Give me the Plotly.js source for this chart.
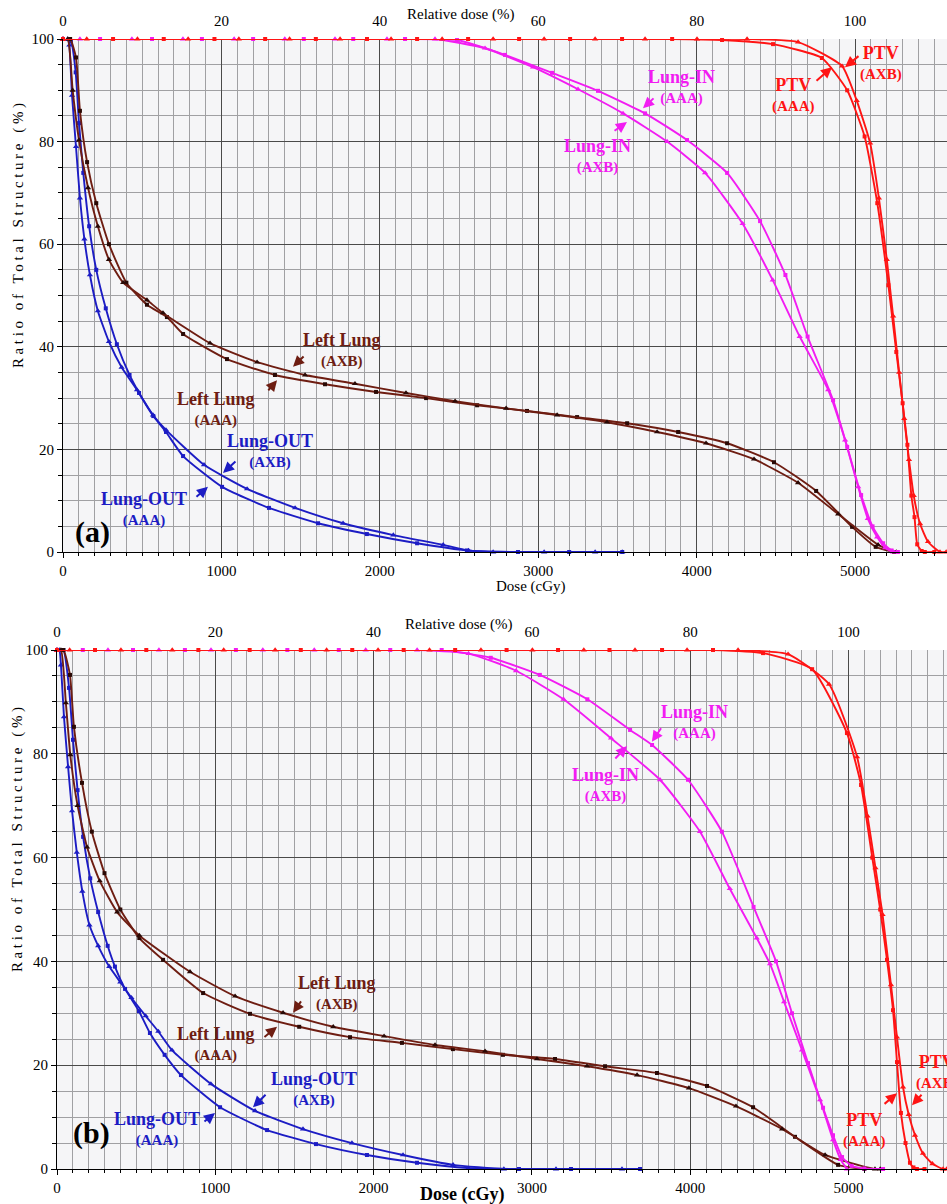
<!DOCTYPE html>
<html><head><meta charset="utf-8">
<script src="https://cdn.plot.ly/plotly-3.0.1.min.js"></script>
<style>html,body{margin:0;padding:0;background:#fff}#chart{width:947px;height:1204px}</style>
</head><body><div id="chart"></div>
<script>
// ---------------- Panel (a) data: dose (cGy) vs ratio of total structure (%) ----------------
const aPtvAaaDose = [0,316,636,956,1276,1596,1919,2235,2557,2879,3201,3529,3845,4160,4482,4790,4950,5060,5140,5210,5260,5300,5330,5355,5375,5392,5420,5440,5500];
const aPtvAaaVol  = [100,100,100,100,100,100,100,100,100,100,100,100,100,99.8,99.0,96.3,90,81,68,52,39,29,20.9,11,6.8,1.5,0.2,0,0];
const aPtvAxbDose = [0,150,470,790,1110,1430,1749,2071,2393,2715,3037,3359,3674,4002,4318,4640,4918,5010,5095,5150,5200,5240,5278,5310,5340,5370,5410,5460,5536,5575];
const aPtvAxbVol  = [100,100,100,100,100,100,100,100,100,100,100,100,100,100,100,99.4,94.7,88,79.7,69,57,46,35,26,18,11,5.5,2,0,0];
const aLungInAaaDose = [0,234,562,877,1200,1520,1832,2159,2487,2790,3087,3377,3674,3939,4192,4400,4560,4700,4861,4950,5038,5110,5177,5230,5270];
const aLungInAaaVol  = [100,100,100,100,100,100,100,100,99.8,96.9,93.4,89.9,85.5,80.3,73.9,64.5,54,42,29.6,20.5,11.1,5,1.7,0.3,0];
const aLungInAxbDose = [0,107,435,757,1080,1400,1717,2045,2348,2664,2967,3251,3535,3813,4053,4290,4480,4650,4830,4937,5019,5080,5139,5190,5240];
const aLungInAxbVol  = [100,100,100,100,100,100,100,100,100,98.2,94.5,90.2,85.5,80,73.9,64,53,42,31.6,21.8,12.7,6.5,2.9,0.8,0];
const aLeftAaaDose = [0,45,82,107,152,210,290,400,530,656,758,1035,1338,1654,1976,2292,2614,2929,3245,3561,3883,4192,4488,4754,4981,5130,5246];
const aLeftAaaVol  = [100,100,96.4,86,76,68,60,52.5,48.2,45.8,42.5,37.6,34.5,32.7,31.2,30,28.6,27.5,26.3,25.1,23.4,21.2,17.5,11.9,4.9,1,0];
const aLeftAxbDose = [0,30,61,101,158,220,290,380,530,631,928,1225,1528,1843,2165,2475,2797,3119,3434,3750,4059,4362,4640,4893,5145,5260];
const aLeftAxbVol  = [100,100,90,80.3,71,63.5,57,52.5,49.1,46.6,40.7,37,34.5,32.8,31,29.4,28,26.7,25.3,23.4,21.2,18.1,13.5,7.4,1.4,0];
const aOutAaaDose = [0,50,80,101,128,165,210,270,340,420,480,570,650,758,1004,1300,1610,1918,2235,2550,2872,3195,3530];
const aOutAaaVol  = [100,99.5,93.5,83.6,73.9,63.5,55,47.5,40.5,34.5,31,26.5,23.4,18.7,12.7,8.6,5.6,3.5,1.7,0.3,0,0,0];
const aOutAxbDose = [0,30,40,57,82,107,135,170,220,290,370,467,568,650,890,1162,1465,1768,2085,2400,2560,2715,3037,3359,3530];
const aOutAxbVol  = [100,100,98.8,89,79,69,61,54,47,41,36,31.6,26.7,23.8,17,12.3,8.6,5.6,3.3,1.4,0.3,0,0,0,0];

// ---------------- Panel (b) data ----------------
const bPtvAaaDose = [0,240,564,893,1217,1540,1865,2190,2515,2840,3165,3490,3822,4144,4460,4770,4990,5079,5150,5200,5243,5281,5306,5331,5360,5388,5410,5432,5480];
const bPtvAaaVol  = [100,100,100,100,100,100,100,100,100,100,100,100,100,100,99.4,96.3,84,74,60,50,40.3,30.6,20.6,10.8,5,1.2,0.3,0,0];
const bPtvAxbDose = [0,80,404,728,1053,1378,1703,2028,2353,2678,3003,3328,3651,3980,4302,4618,4877,5054,5120,5170,5215,5268,5306,5344,5380,5420,5470,5530,5597,5620];
const bPtvAxbVol  = [100,100,100,100,100,100,100,100,100,100,100,100,100,100,100,99.2,93.4,79.4,68,58,49,35.5,25.4,15.8,10.5,6.5,3,1,0,0];
const bLungInAaaDose = [0,163,480,808,1130,1455,1780,2105,2430,2740,3050,3350,3620,3759,3986,4200,4400,4542,4643,4744,4839,4902,4959,5020,5100,5218];
const bLungInAaaVol  = [100,100,100,100,100,100,100,100,100,98.5,95.2,90.5,84.6,81.7,75,65,50.5,40,30,20.4,11.8,6.5,2.3,0.6,0.1,0];
const bLungInAxbDose = [0,322,644,973,1300,1625,1950,2275,2600,2900,3200,3500,3809,4062,4250,4420,4504,4593,4706,4820,4902,4950,4990];
const bLungInAxbVol  = [100,100,100,100,100,100,100,100,99.3,96,90.5,83,75,65,54,44.5,39.5,32.2,22.9,13.3,5.6,1.8,0];
const bLeftAaaDose = [0,40,82,107,158,220,300,400,520,670,923,1219,1530,1851,2179,2501,2817,3146,3462,3790,4106,4397,4662,4934,5100];
const bLeftAaaVol  = [100,100,95.2,85.2,74.4,65,57,50,44.5,40.3,33.9,29.9,27.4,25.4,24.3,23.1,22,21.2,19.8,18.5,16,11.9,6.2,0.8,0];
const bLeftAxbDose = [0,25,56,84,130,190,270,380,520,840,1125,1428,1745,2066,2388,2704,3032,3348,3664,3992,4289,4580,4852,5167,5200];
const bLeftAxbVol  = [100,100,89.8,79.8,70,62,55.5,49.5,45,38,33.3,30.1,27.4,25.6,23.9,22.7,21.2,19.8,18.1,15.6,12.1,7.7,2.7,0,0];
const bOutAaaDose = [0,40,76,101,130,165,210,260,320,366,430,518,587,680,783,1030,1327,1636,1958,2274,2596,2918,3247,3683];
const bOutAaaVol  = [100,100,92.7,82.7,73,64,56,49.5,43,39,34.7,30.4,26.2,22,18.1,11.9,7.5,4.8,2.7,1.2,0.2,0,0,0];
const bOutAxbDose = [0,15,25,44,70,95,125,160,205,260,330,400,470,560,640,726,972,1251,1554,1863,2186,2502,2823,3152,3569];
const bOutAxbVol  = [100,100,97.1,87.1,77.5,69,61,53.5,47,43,39,36,33,29.5,26.5,22.9,16.4,11.2,7.7,5,2.7,0.8,0,0,0];

// axis settings
const doseTicks = [0,1000,2000,3000,4000,5000];
const relTicks = [0,20,40,60,80,100];
const volTicks = [0,20,40,60,80,100];
const PRESCRIPTION = 5000; // cGy = 100 % relative dose

const FONT = '"Liberation Serif", "Times New Roman", serif';
const COL = {ptv:'#ff1414', lungIn:'#f21cf2', left:'#6e1d12', leftMk:'#2a0905', out:'#1c1cc4'};
const W = 947, H = 1204;

function tr(x, y, color, sym, xa, ya, mcolor) {
  return {type:'scatter', mode:'lines+markers', x:x, y:y, xaxis:xa, yaxis:ya, cliponaxis:false,
    line:{color:color, width:1.9, shape:'spline', smoothing:0.5},
    marker:{symbol:sym, size: sym === 'triangle-up' ? 5.5 : 4, color: mcolor || color},
    hoverinfo:'skip', showlegend:false};
}
// carrier traces for the relative-dose (top) axes: no visible marks
function carrier(xa, ya) {
  return {type:'scatter', mode:'markers', x:relTicks, y:relTicks.map(function(){return null;}),
    xaxis:xa, yaxis:ya, marker:{opacity:0}, hoverinfo:'skip', showlegend:false};
}
const T = 'triangle-up', S = 'square';
const data = [
  carrier('x2', 'y'),
  carrier('x4', 'y2'),
  tr(aOutAaaDose, aOutAaaVol, COL.out, S, 'x', 'y'),
  tr(aOutAxbDose, aOutAxbVol, COL.out, T, 'x', 'y'),
  tr(aLeftAaaDose, aLeftAaaVol, COL.left, S, 'x', 'y', COL.leftMk),
  tr(aLeftAxbDose, aLeftAxbVol, COL.left, T, 'x', 'y', COL.leftMk),
  tr(aLungInAaaDose, aLungInAaaVol, COL.lungIn, S, 'x', 'y'),
  tr(aLungInAxbDose, aLungInAxbVol, COL.lungIn, T, 'x', 'y'),
  tr(aPtvAaaDose, aPtvAaaVol, COL.ptv, S, 'x', 'y'),
  tr(aPtvAxbDose, aPtvAxbVol, COL.ptv, T, 'x', 'y'),
  tr(bOutAaaDose, bOutAaaVol, COL.out, S, 'x3', 'y2'),
  tr(bOutAxbDose, bOutAxbVol, COL.out, T, 'x3', 'y2'),
  tr(bLeftAaaDose, bLeftAaaVol, COL.left, S, 'x3', 'y2', COL.leftMk),
  tr(bLeftAxbDose, bLeftAxbVol, COL.left, T, 'x3', 'y2', COL.leftMk),
  tr(bLungInAaaDose, bLungInAaaVol, COL.lungIn, S, 'x3', 'y2'),
  tr(bLungInAxbDose, bLungInAxbVol, COL.lungIn, T, 'x3', 'y2'),
  tr(bPtvAaaDose, bPtvAaaVol, COL.ptv, S, 'x3', 'y2'),
  tr(bPtvAxbDose, bPtvAxbVol, COL.ptv, T, 'x3', 'y2')
];

const tickFont = {family:FONT, size:15, color:'#000'};
function doseAxis(l, maxDose, anchor) {
  return {domain:[l / W, 1], range:[0, maxDose], anchor:anchor, tickmode:'array', tickvals:doseTicks,
    ticktext:doseTicks.map(String), showgrid:true, gridcolor:'#4a4a4a', gridwidth:1, zeroline:false,
    showline:true, linecolor:'#000', linewidth:1, ticks:'outside', ticklen:5, tickcolor:'#000',
    tickfont:tickFont, fixedrange:true,
    minor:{dtick:100, tick0:0, showgrid:true, gridcolor:'#a0a0a3', gridwidth:1, ticks:'outside', ticklen:3, tickcolor:'#000'}};
}
function relAxis(over, anchor, maxDose) {
  return {overlaying:over, side:'top', anchor:anchor, range:[0, maxDose * 100 / PRESCRIPTION],
    tickmode:'array', tickvals:relTicks, ticktext:relTicks.map(String), showgrid:false, zeroline:false,
    showline:false, ticks:'outside', ticklen:6, tickcolor:'rgba(0,0,0,0)', tickfont:tickFont, fixedrange:true};
}
function volAxis(top, bottom, anchor) {
  return {domain:[1 - bottom / H, 1 - top / H], range:[0, 100], anchor:anchor, tickmode:'array',
    tickvals:volTicks, ticktext:volTicks.map(String), showgrid:true, gridcolor:'#4a4a4a', gridwidth:1,
    zeroline:false, showline:true, linecolor:'#000', linewidth:1, ticks:'outside', ticklen:5,
    tickcolor:'#000', tickfont:tickFont, fixedrange:true,
    minor:{dtick:5, tick0:0, showgrid:true, gridcolor:'#a0a0a3', gridwidth:1, ticks:'outside', ticklen:4, tickcolor:'#000'}};
}
const A_MAX = 5580, B_MAX = 5622;

function label(xr, yr, x, y, name, plan, color) {
  return {xref:xr, yref:yr, x:x, y:y, showarrow:false, align:'center',
    text:'<b><span style="font-size:18px">' + name + '</span><br>' + plan + '</b>',
    font:{family:FONT, size:15, color:color}};
}
function arrow(xr, yr, x, y, ax, ay, color) {
  return {xref:xr, yref:yr, axref:xr, ayref:yr, x:x, y:y, ax:ax, ay:ay, text:'', showarrow:true,
    arrowhead:2, arrowsize:1.1, arrowwidth:2, arrowcolor:color, standoff:0, startstandoff:0};
}
function ptxt(x, y, text, size, angle) {
  return {xref:'paper', yref:'paper', x:x / W, y:1 - y / H, text:text, showarrow:false,
    font:{family:FONT, size:size, color:'#000'}, textangle:angle || 0, xanchor:'center', yanchor:'middle'};
}
const yTitle = '<span style="letter-spacing:3.6px">Ratio of Total Structure (%)</span>';

const ann = [
  // panel (a)
  label('x','y', 3901, 90.6, 'Lung-IN', '(AAA)', COL.lungIn),
  arrow('x','y', 3661, 86.5, 3737, 88.7, COL.lungIn),
  label('x','y', 3371, 77.2, 'Lung-IN', '(AXB)', COL.lungIn),
  arrow('x','y', 3560, 83.8, 3472, 81.9, COL.lungIn),
  label('x','y', 4614, 89.1, 'PTV', '(AAA)', COL.ptv),
  arrow('x','y', 4854, 94.5, 4747, 91.6, COL.ptv),
  label('x','y', 5163, 95.3, 'PTV', '(AXB)', COL.ptv),
  arrow('x','y', 4936, 94.5, 5031, 96.9, COL.ptv),
  label('x','y', 1761, 39.4, 'Left Lung', '(AXB)', COL.left),
  arrow('x','y', 1452, 36.1, 1528, 38.4, COL.left),
  label('x','y', 966, 27.9, 'Left Lung', '(AAA)', COL.left),
  arrow('x','y', 1351, 33.5, 1288, 31.2, COL.left),
  label('x','y', 1307, 19.7, 'Lung-OUT', '(AXB)', COL.out),
  arrow('x','y', 1010, 15.4, 1098, 17.9, COL.out),
  label('x','y', 511, 8.4, 'Lung-OUT', '(AAA)', COL.out),
  arrow('x','y', 915, 12.7, 833, 10.5, COL.out),
  {xref:'x', yref:'y', x:189, y:3.9, text:'<b>(a)</b>', showarrow:false, font:{family:FONT, size:30, color:'#000'}},
  // panel (b)
  label('x3','y2', 4024, 86.1, 'Lung-IN', '(AAA)', COL.lungIn),
  arrow('x3','y2', 3758, 82.3, 3822, 85.2, COL.lungIn),
  label('x3','y2', 3462, 74.0, 'Lung-IN', '(AXB)', COL.lungIn),
  arrow('x3','y2', 3601, 81.5, 3518, 78.8, COL.lungIn),
  label('x3','y2', 5098, 7.5, 'PTV', '(AAA)', COL.ptv),
  arrow('x3','y2', 5306, 14.6, 5218, 12.3, COL.ptv),
  label('x3','y2', 5559, 18.7, 'PTV', '(AXB)', COL.ptv),
  arrow('x3','y2', 5401, 12.3, 5470, 14.6, COL.ptv),
  label('x3','y2', 1769, 33.9, 'Left Lung', '(AXB)', COL.left),
  arrow('x3','y2', 1491, 30.1, 1548, 32.6, COL.left),
  label('x3','y2', 1004, 24.1, 'Left Lung', '(AAA)', COL.left),
  arrow('x3','y2', 1390, 27.4, 1301, 25.2, COL.left),
  label('x3','y2', 1623, 15.4, 'Lung-OUT', '(AXB)', COL.out),
  arrow('x3','y2', 1238, 11.9, 1327, 14.6, COL.out),
  label('x3','y2', 632, 7.7, 'Lung-OUT', '(AAA)', COL.out),
  arrow('x3','y2', 998, 10.8, 922, 8.9, COL.out),
  {xref:'x3', yref:'y2', x:221, y:6.9, text:'<b>(b)</b>', showarrow:false, font:{family:FONT, size:30, color:'#000'}},
  // axis titles
  ptxt(460, 14, 'Relative dose (%)', 15),
  ptxt(531, 587, 'Dose (cGy)', 15),
  ptxt(458, 624, 'Relative dose (%)', 15),
  ptxt(462, 1194, '<b>Dose (cGy)</b>', 18),
  ptxt(18, 234, yTitle, 15, -90),
  ptxt(18, 838, yTitle, 15, -90)
];

const layout = {
  width:W, height:H, margin:{l:0, r:0, t:0, b:0}, paper_bgcolor:'#fff', plot_bgcolor:'#f5f5f7',
  showlegend:false, font:{family:FONT, color:'#000'},
  xaxis: doseAxis(63, A_MAX, 'y'),
  xaxis2: relAxis('x', 'y', A_MAX),
  yaxis: volAxis(39, 552, 'x'),
  xaxis3: doseAxis(57, B_MAX, 'y2'),
  xaxis4: relAxis('x3', 'y2', B_MAX),
  yaxis2: volAxis(650, 1169, 'x3'),
  annotations: ann
};
Plotly.newPlot('chart', data, layout, {staticPlot:true, displayModeBar:false});
</script></body></html>
